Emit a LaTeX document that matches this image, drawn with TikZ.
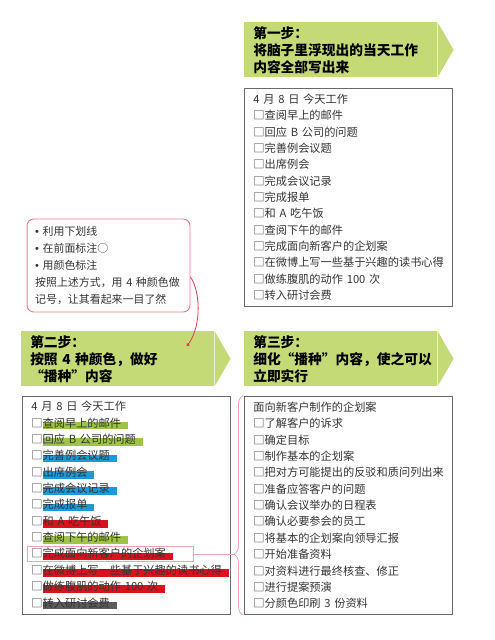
\documentclass[tikz,border=0pt]{standalone}
\usepackage{fontspec}
\setmainfont{Noto Sans CJK SC}
\newfontfamily\bulletfont{Liberation Sans}
\usepackage{tikz}
\usetikzlibrary{arrows.meta,positioning,decorations.pathreplacing}

\definecolor{stepgreen}{HTML}{C3DA77}
\definecolor{hlgreen}{HTML}{9DC543}
\definecolor{hlblue}{HTML}{1A9AD8}
\definecolor{hlred}{HTML}{D8131D}
\definecolor{hlgray}{HTML}{5C5C5C}
\definecolor{pinkline}{HTML}{F3A3AE}
\definecolor{notered}{HTML}{EC7A8B}
\definecolor{curvered}{HTML}{E53A4E}
\definecolor{boxgray}{HTML}{6A6A6A}

\newsavebox{\hltext}
\newcommand{\hlbar}[2]{\sbox{\hltext}{#2}\rlap{\color{#1}\rule[-1.7pt]{\dimexpr\wd\hltext+5pt\relax}{5.6pt}}\usebox{\hltext}}
\newcommand{\dotitem}{{\bulletfont •} }

\begin{document}
\begin{tikzpicture}[x=0.75pt, y=-0.75pt, >=Latex,
    stepbox/.style={rectangle, fill=stepgreen, text width=131.25pt, inner xsep=6.75pt, inner ysep=0pt, minimum height=41.25pt, align=left, font=\bfseries\fontsize{10.3}{12.75}\selectfont},
    listbox/.style={rectangle, draw=boxgray, line width=0.7pt, text width=142.5pt, inner xsep=6.75pt, minimum height=164pt, align=left, text=black!80, font=\fontsize{8.4}{12.26}\selectfont},
    notebox/.style={rectangle, rounded corners=5pt, draw=notered, line width=0.7pt, text width=110pt, inner xsep=6.1pt, minimum height=69.75pt, align=left, text=black!80, font=\fontsize{8.2}{12.9}\selectfont},
    focusbox/.style={rectangle, draw=pinkline, line width=0.6pt, minimum width=124.5pt, minimum height=11.25pt, inner sep=0pt}]

    \useasboundingbox (0,0) rectangle (494,640);

    \node [stepbox, anchor=north west] (step1) at (244,22) {第一步：\\将脑子里浮现出的当天工作\\内容全部写出来};
    \node [stepbox, anchor=north west] (step2) at (21,331) {第二步：\\按照 4 种颜色，做好\\“播种”内容};
    \node [stepbox, anchor=north west] (step3) at (244,331) {第三步：\\细化“播种”内容，使之可以\\立即实行};
    \fill [stepgreen] (step1.north east) -- ([xshift=12pt]step1.east) -- (step1.south east) -- cycle;
    \fill [stepgreen] (step2.north east) -- ([xshift=12pt]step2.east) -- (step2.south east) -- cycle;
    \fill [stepgreen] (step3.north east) -- ([xshift=12pt]step3.east) -- (step3.south east) -- cycle;

    \node [listbox, below=7.5pt of step1.south west, anchor=north west] (today) {4 月 8 日\ 今天工作\\
        □查阅早上的邮件\\ □回应 B 公司的问题\\ □完善例会议题\\ □出席例会\\ □完成会议记录\\ □完成报单\\
        □和 A 吃午饭\\ □查阅下午的邮件\\ □完成面向新客户的企划案\\ □在微博上写一些基于兴趣的读书心得\\
        □做练腹肌的动作 100 次\\ □转入研讨会费};

    \node [listbox, below=6.75pt of step2.south west, anchor=north west, xshift=0.75pt] (seeded) {4 月 8 日\ 今天工作\\
        □\hlbar{hlgreen}{查阅早上的邮件}\\ □\hlbar{hlgreen}{回应 B 公司的问题}\\ □\hlbar{hlblue}{完善例会议题}\\
        □\hlbar{hlblue}{出席例会}\\ □\hlbar{hlblue}{完成会议记录}\\ □\hlbar{hlblue}{完成报单}\\
        □\hlbar{hlred}{和 A 吃午饭}\\ □\hlbar{hlgreen}{查阅下午的邮件}\\ □\hlbar{hlred}{完成面向新客户的企划案}\\
        □\hlbar{hlred}{在微博上写一些基于兴趣的读书心得}\\ □\hlbar{hlred}{做练腹肌的动作 100 次}\\ □\hlbar{hlgray}{转入研讨会费}};

    \node [listbox, below=6.75pt of step3.south west, anchor=north west] (detail) {面向新客户制作的企划案\\
        □了解客户的诉求\\ □确定目标\\ □制作基本的企划案\\ □把对方可能提出的反驳和质问列出来\\
        □准备应答客户的问题\\ □确认会议举办的日程表\\ □确认必要参会的员工\\ □将基本的企划案向领导汇报\\
        □开始准备资料\\ □对资料进行最终核查、修正\\ □进行提案预演\\ □分颜色印刷 3 份资料};

    \node [notebox] (note) at (108.5,265.5) {\dotitem 利用下划线\\ \dotitem 在前面标注○\\ \dotitem 用颜色标注\\
        按照上述方式，用 4 种颜色做\\ 记号，让其看起来一目了然};

    \node [focusbox] (focus) at (110,554) {};
    \coordinate (bracetip) at (234,554);
    \coordinate (seedpt) at (187,346);

    \draw [pinkline, line width=0.6pt, decorate, decoration={brace, amplitude=6.75pt, aspect=0.277}]
        ([xshift=-0.75pt]detail.south west) -- ([xshift=-0.75pt]detail.north west);
    \draw [pinkline, line width=0.6pt] (focus.east) -- (bracetip);
    \draw [curvered, line width=0.6pt, -{Circle[length=2.4pt]}] ([yshift=-8.6pt]note.east) .. controls (200,290) and (202,325) .. (seedpt);
\end{tikzpicture}
\end{document}
